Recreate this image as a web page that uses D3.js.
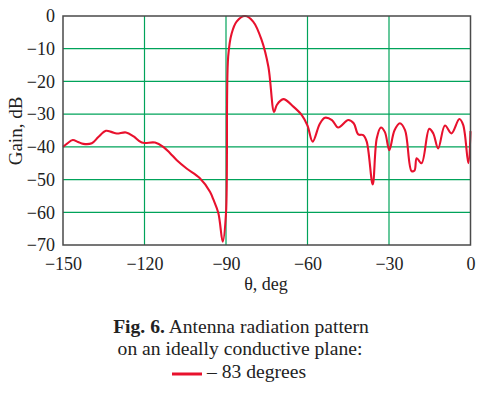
<!DOCTYPE html>
<html><head><meta charset="utf-8">
<script src="https://cdn.jsdelivr.net/npm/d3@7"></script>
<style>body{margin:0;background:#fff}svg{display:block}</style>
</head><body>
<svg id="c" width="486" height="393"></svg>
<script>
const theta = [-150,-148.5,-146.4,-144.5,-142.5,-139.4,-137,-134.2,-132,-130.2,-126.8,-124,-121,-116.1,-113.1,-110.5,-108.2,-104.5,-99.6,-95.9,-94.7,-92.8,-91.2,-90,-89.2,-87.9,-86.1,-83,-80,-76.9,-74.4,-72.3,-71.3,-68.9,-65.2,-62.1,-60,-58.1,-55.5,-53.6,-51,-48.7,-45,-43,-41.3,-39.5,-38.2,-36,-34.5,-33,-31.5,-29.9,-28,-26,-24.1,-21.7,-20.6,-19.8,-18,-15.2,-13.7,-11.9,-9.4,-7,-4.1,-2.7,-0.8,0];
const gain = [-40,-39,-37.9,-38.5,-39.1,-38.9,-37,-35.1,-35.5,-35.9,-35.6,-36.8,-38.7,-38.7,-40,-42,-44,-46.6,-49.6,-53.7,-56,-60.3,-69,-60.3,-12.4,-5.3,-1.7,0,-1.7,-7.3,-15.5,-29.3,-27.2,-25.4,-27.7,-30.3,-33.5,-38.4,-33,-31.1,-31.8,-34.1,-31.8,-32.8,-36.2,-36.4,-38.4,-51.5,-37.4,-34.1,-35.5,-41,-35,-32.8,-34.9,-47.4,-47.2,-43.5,-45,-34.5,-35.9,-40.5,-33.5,-35.9,-31.5,-33.3,-45,-35.2];
const xTicks = [-150,-120,-90,-60,-30,0];
const yTicks = [0,-10,-20,-30,-40,-50,-60,-70];
const xGrid = [-120,-90,-60,-30];
const yGrid = [-10,-20,-30,-40,-50,-60];
const yTitle = "Gain, dB";
const xTitle = "θ, deg";
const captionBold = "Fig. 6.";
const captionRest = " Antenna radiation pattern";
const caption2 = "on an ideally conductive plane:";
const legendLabel = "– 83 degrees";

const svg = d3.select("#c");
const L=63, R=470.5, T=16, B=245;
const x = d3.scaleLinear().domain([-150,0]).range([L,R]);
const y = d3.scaleLinear().domain([-70,0]).range([B,T]);
const green = "#00a35a", red = "#e8112d", frame="#4a4a4a";
const font = "'Liberation Serif','Times New Roman',serif";
const minus = s => String(s).replace("-","\u2212");

svg.append("g").selectAll("line").data(xGrid).join("line")
  .attr("x1",d=>x(d)).attr("x2",d=>x(d)).attr("y1",T).attr("y2",B)
  .attr("stroke",green).attr("stroke-width",1.2);
svg.append("g").selectAll("line").data(yGrid).join("line")
  .attr("y1",d=>y(d)).attr("y2",d=>y(d)).attr("x1",L).attr("x2",R)
  .attr("stroke",green).attr("stroke-width",1.2);

const line = d3.line().x((d,i)=>x(theta[i])).y(d=>y(d)).curve(d3.curveCatmullRom.alpha(0.5));
svg.append("path").attr("d",line(gain)).attr("fill","none").attr("stroke",red).attr("stroke-width",2.1).attr("stroke-linejoin","round");

svg.append("rect").attr("x",L).attr("y",T).attr("width",R-L).attr("height",B-T)
  .attr("fill","none").attr("stroke",frame).attr("stroke-width",1.5);

const xa = svg.append("g").attr("transform",`translate(0,${B})`)
  .call(d3.axisBottom(x).tickValues(xTicks).tickSize(0).tickPadding(12).tickFormat(minus));
xa.select(".domain").remove();
xa.selectAll("text").attr("font-family",font).attr("font-size",18).attr("fill","#222");
const ya = svg.append("g").attr("transform",`translate(${L},0)`)
  .call(d3.axisLeft(y).tickValues(yTicks).tickSize(0).tickPadding(8).tickFormat(minus));
ya.select(".domain").remove();
ya.selectAll("text").attr("font-family",font).attr("font-size",18).attr("fill","#222");

svg.append("text").attr("transform","translate(22,131) rotate(-90)").attr("text-anchor","middle")
  .attr("font-family",font).attr("font-size",19).attr("fill","#222").text(yTitle);
svg.append("text").attr("x",266).attr("y",290).attr("text-anchor","middle")
  .attr("font-family",font).attr("font-size",18).attr("fill","#222").text(xTitle);

const c1 = svg.append("text").attr("x",241).attr("y",333).attr("text-anchor","middle")
  .attr("font-family",font).attr("font-size",19.6).attr("fill","#222");
c1.append("tspan").attr("font-weight","bold").text(captionBold);
c1.append("tspan").text(captionRest);
svg.append("text").attr("x",240).attr("y",355).attr("text-anchor","middle")
  .attr("font-family",font).attr("font-size",19.6).attr("fill","#222").text(caption2);
svg.append("line").attr("x1",172).attr("x2",202).attr("y1",374).attr("y2",374).attr("stroke",red).attr("stroke-width",3);
svg.append("text").attr("x",207).attr("y",378)
  .attr("font-family",font).attr("font-size",19.6).attr("fill","#222").text(legendLabel);
</script>
</body></html>
